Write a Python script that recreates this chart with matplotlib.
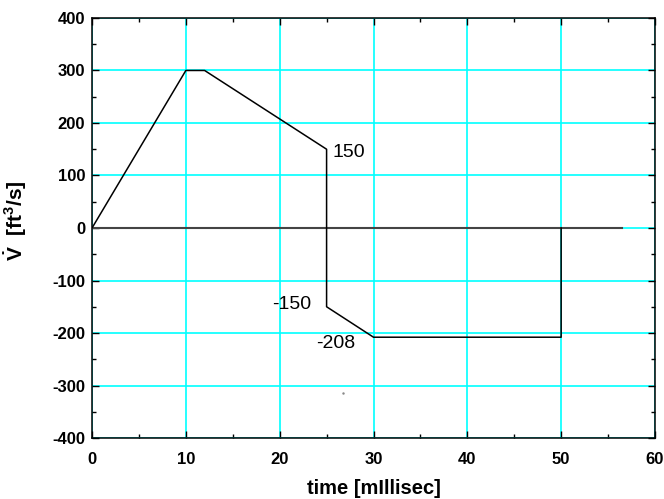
import matplotlib
matplotlib.use('Agg')
import matplotlib.pyplot as plt
from matplotlib.ticker import MultipleLocator

plt.rcParams['font.family'] = 'Liberation Sans'
plt.rcParams['axes.unicode_minus'] = False
plt.rcParams['mathtext.fontset'] = 'custom'
plt.rcParams['mathtext.rm'] = 'Liberation Sans:bold'
plt.rcParams['mathtext.it'] = 'Liberation Sans:bold'
plt.rcParams['mathtext.bf'] = 'Liberation Sans:bold'

# flow rate profile [ms, ft^3/s]
time_ms = [0, 10, 12, 25, 25, 30, 50, 50]
flow = [0, 300, 300, 150, -150, -208, -208, 0]

# zero reference line
zero_t = [0, 56.5]
zero_v = [0, 0]

# stray point in the source picture
stray_t = [26.7]
stray_v = [-314]

# value labels (text, x, y, alignment)
label_text = ['150', '-150', '-208']
label_t = [25.6, 23.4, 23.9]
label_v = [143, -145, -220]
label_ha = ['left', 'right', 'left']

fig = plt.figure(figsize=(6.64, 4.99), dpi=100)
ax = fig.add_axes([0.1386, 0.1222, 0.8478, 0.8418])

ax.plot(zero_t, zero_v, color='#444444', linewidth=1.5, zorder=3)
ax.plot(time_ms, flow, color='black', linewidth=1.1, zorder=4)
ax.plot(stray_t, stray_v, marker='.', markersize=1.5, color='#888888', linestyle='none')

for txt, t, v, ha in zip(label_text, label_t, label_v, label_ha):
    ax.text(t, v, txt, fontsize=14, va='center', ha=ha, zorder=5)

ax.set_xlim(0, 60)
ax.set_ylim(-400, 400)
ax.xaxis.set_major_locator(MultipleLocator(10))
ax.xaxis.set_minor_locator(MultipleLocator(5))
ax.yaxis.set_major_locator(MultipleLocator(100))
ax.yaxis.set_minor_locator(MultipleLocator(50))
ax.grid(which='major', color='#00FFFF', linewidth=1.2)
ax.set_axisbelow(True)
ax.tick_params(which='both', direction='in', top=True, right=True, width=1)
ax.tick_params(which='major', length=5, labelsize=12)
ax.tick_params(axis='x', which='major', pad=10)
ax.tick_params(axis='y', which='major', pad=5)
ax.tick_params(which='minor', length=3)
for lab in ax.get_xticklabels() + ax.get_yticklabels():
    lab.set_fontweight('bold')
for sp in ax.spines.values():
    sp.set_linewidth(1.1)

ax.set_xlabel('time [mIllisec]', fontsize=14.5, fontweight='bold', labelpad=9)
ax.set_ylabel(r'$\dot{V}$  [ft$^3$/s]', fontsize=15, fontweight='bold')
ax.yaxis.set_label_coords(-0.112, 0.517)

plt.savefig('out.png', dpi=100)
plt.close()
